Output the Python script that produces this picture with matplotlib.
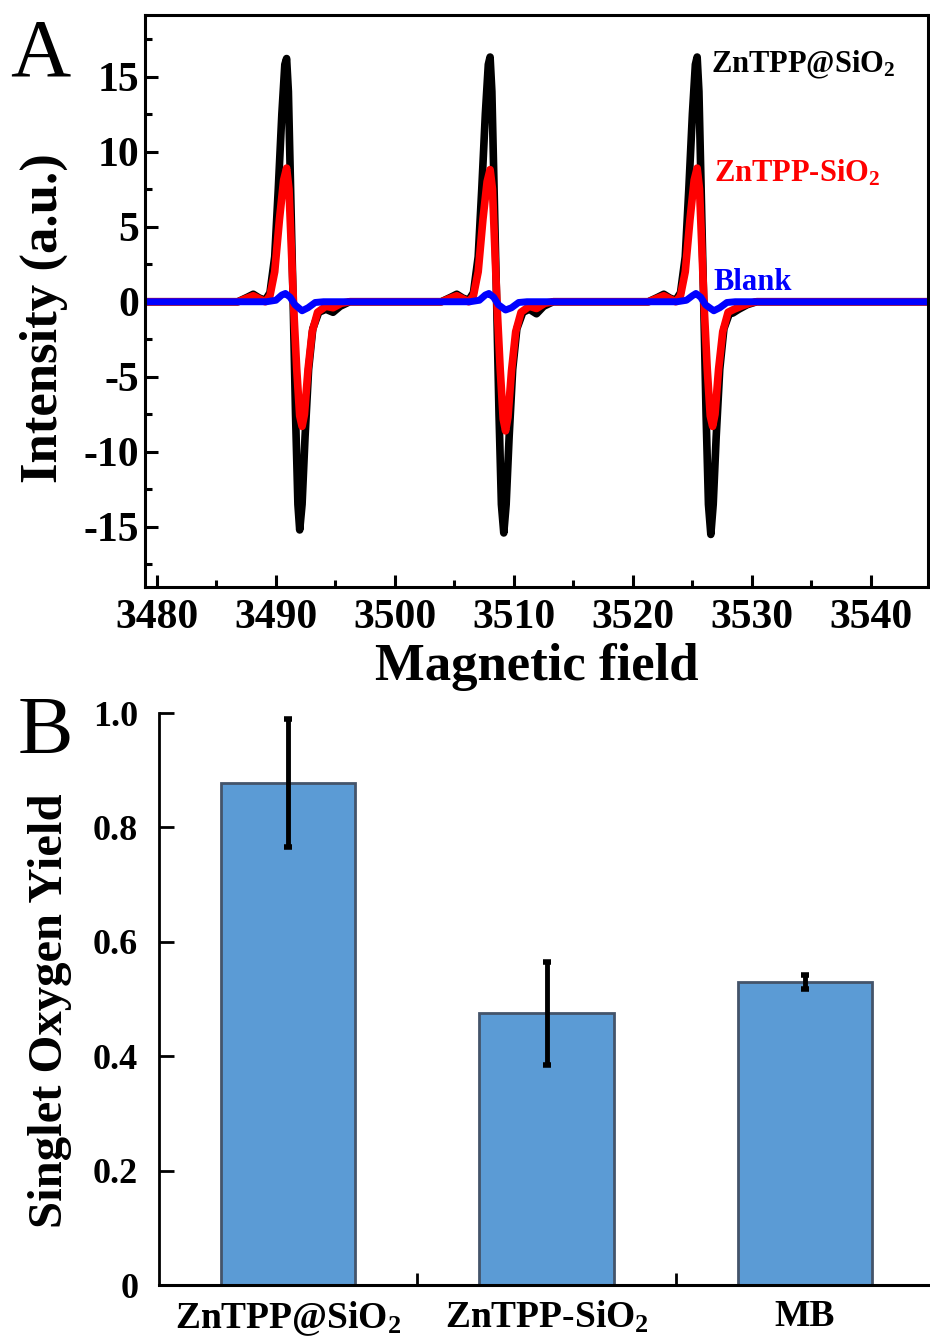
# EPR-Spektren (A) und Singulett-Sauerstoff-Ausbeute (B)

import numpy as np
import matplotlib.pyplot as plt

plt.rcParams['font.family'] = 'Liberation Serif'
plt.rcParams['font.weight'] = 'bold'
plt.rcParams['axes.labelweight'] = 'bold'
plt.rcParams['axes.unicode_minus'] = False
plt.rcParams['mathtext.fontset'] = 'custom'
plt.rcParams['mathtext.rm'] = 'Liberation Serif:bold'
plt.rcParams['mathtext.it'] = 'Liberation Serif:bold'
plt.rcParams['mathtext.bf'] = 'Liberation Serif:bold'

field_black = [3479.0, 3486.8, 3487.6, 3488.1, 3488.6, 3489.1, 3489.5, 3489.9, 3490.2, 3490.5,
               3490.75, 3490.9, 3491.05, 3491.25, 3491.45, 3491.65, 3491.85, 3492.0, 3492.2,
               3492.45, 3492.75, 3493.1, 3493.6, 3494.2, 3494.8, 3495.4, 3496.2,
               3503.9, 3504.7, 3505.2, 3505.7, 3506.2, 3506.6, 3507.0, 3507.3, 3507.6,
               3507.85, 3508.0, 3508.15, 3508.35, 3508.55, 3508.75, 3508.95, 3509.15, 3509.35,
               3509.6, 3509.9, 3510.25, 3510.75, 3511.3, 3511.9, 3512.5, 3513.3,
               3521.3, 3522.1, 3522.6, 3523.1, 3523.6, 3524.0, 3524.4, 3524.7, 3525.0,
               3525.25, 3525.4, 3525.55, 3525.75, 3525.95, 3526.15, 3526.35, 3526.55, 3526.75,
               3527.0, 3527.3, 3527.65, 3528.1, 3528.4, 3528.9, 3529.6, 3530.4, 3545.0]
int_black = [0.0, 0.0, 0.3, 0.5, 0.25, 0.1, 0.6, 3.0, 7.5, 12.5,
             15.8, 16.2, 14.0, 7.0, 0.0, -7.5, -13.5, -15.2, -13.5,
             -9.0, -4.5, -1.8, -0.7, -0.5, -0.7, -0.3, 0.0,
             0.0, 0.3, 0.5, 0.25, 0.1, 0.6, 3.0, 7.5, 12.5,
             15.8, 16.3, 14.0, 7.0, 0.0, -7.5, -13.5, -15.4, -13.5,
             -9.0, -4.5, -1.8, -0.7, -0.5, -0.8, -0.3, 0.0,
             0.0, 0.3, 0.5, 0.25, 0.1, 0.6, 3.0, 7.5, 12.5,
             15.8, 16.3, 14.0, 7.0, 0.0, -7.5, -13.5, -15.5, -13.5,
             -9.0, -4.5, -1.8, -0.8, -0.75, -0.5, -0.2, 0.0, 0.0]

field_red = [3479.0, 3486.8, 3487.6, 3488.1, 3488.6, 3489.1, 3489.5, 3489.9, 3490.3, 3490.65,
             3490.9, 3491.1, 3491.3, 3491.5, 3491.75, 3492.0, 3492.2, 3492.4, 3492.7,
             3493.05, 3493.5, 3494.2, 3494.8, 3495.5, 3496.2,
             3503.9, 3504.7, 3505.2, 3505.7, 3506.2, 3506.6, 3507.0, 3507.4, 3507.75,
             3508.0, 3508.2, 3508.4, 3508.6, 3508.85, 3509.1, 3509.3, 3509.5, 3509.8,
             3510.15, 3510.6, 3511.3, 3511.9, 3512.6, 3513.3,
             3521.3, 3522.1, 3522.6, 3523.1, 3523.6, 3524.0, 3524.4, 3524.8, 3525.15,
             3525.4, 3525.6, 3525.8, 3526.0, 3526.25, 3526.5, 3526.7, 3526.9, 3527.2,
             3527.55, 3528.0, 3528.5, 3529.1, 3529.8, 3530.4, 3545.0]
int_red = [0.0, 0.0, 0.25, 0.4, 0.2, 0.0, 0.4, 2.0, 5.5, 8.1,
           8.9, 7.5, 3.5, -0.5, -4.5, -7.6, -8.3, -7.5, -4.5,
           -2.0, -0.7, -0.3, -0.4, -0.1, 0.0,
           0.0, 0.25, 0.4, 0.2, 0.0, 0.4, 2.0, 5.5, 8.0,
           8.8, 7.5, 3.5, -0.5, -4.5, -7.8, -8.6, -7.7, -4.6,
           -2.0, -0.7, -0.3, -0.45, -0.1, 0.0,
           0.0, 0.25, 0.4, 0.2, 0.0, 0.4, 2.0, 5.5, 8.1,
           8.9, 7.5, 3.5, -0.5, -4.5, -7.6, -8.3, -7.5, -4.5,
           -2.0, -0.7, -0.5, -0.3, -0.1, 0.0, 0.0]

field_blue = [3479.0, 3489.2, 3490.0, 3490.5, 3490.8, 3491.2, 3491.6, 3492.2, 3492.7, 3493.3, 3494.0,
              3506.3, 3507.1, 3507.6, 3507.9, 3508.3, 3508.7, 3509.3, 3509.8, 3510.4, 3511.1,
              3523.7, 3524.5, 3525.0, 3525.3, 3525.7, 3526.1, 3526.8, 3527.3, 3527.9, 3528.6, 3545.0]
int_blue = [0.0, 0.0, 0.1, 0.45, 0.55, 0.3, -0.2, -0.6, -0.4, -0.05, 0.0,
            0.0, 0.1, 0.45, 0.55, 0.3, -0.2, -0.55, -0.4, -0.05, 0.0,
            0.0, 0.1, 0.4, 0.55, 0.3, -0.2, -0.6, -0.4, -0.05, 0.0, 0.0]

# Panel B: Balkendaten
samples = ['ZnTPP@SiO$_2$', 'ZnTPP-SiO$_2$', 'MB']
yields = [0.878, 0.475, 0.530]
yield_err = [0.112, 0.090, 0.012]

fig = plt.figure(figsize=(9.3, 13.43), dpi=100)

# ---------------- Panel A ----------------
ax1 = fig.add_axes([145 / 930, 1 - 587 / 1343, 783 / 930, 572 / 1343])
kw = dict(solid_joinstyle='round', solid_capstyle='round')
ax1.plot(field_black, int_black, color='black', lw=5.5, **kw)
ax1.plot(field_red, int_red, color='#ff0000', lw=5.5, **kw)
ax1.plot(field_blue, int_blue, color='#0000ff', lw=5, **kw)

ax1.set_xlim(3479, 3544.8)
ax1.set_ylim(-19, 19.1)
ax1.set_xticks(np.arange(3480, 3541, 10))
ax1.set_xticks(np.arange(3485, 3541, 10), minor=True)
ax1.set_yticks(np.arange(-15, 16, 5))
ax1.set_yticks(np.arange(-17.5, 18, 5), minor=True)
ax1.tick_params(which='both', direction='in', top=False, right=False, width=2.2)
ax1.tick_params(which='major', length=9, labelsize=30)
ax1.tick_params(which='minor', length=5)
ax1.tick_params(axis='x', pad=9)
ax1.tick_params(axis='y', pad=4)
for s in ax1.spines.values():
    s.set_linewidth(2.2)
ax1.set_xlabel('Magnetic field', fontsize=38, labelpad=4)
ax1.set_ylabel('Intensity (a.u.)', fontsize=38)
ax1.yaxis.set_label_coords(-0.098, 0.47)

ax1.text(3526.6, 15.3, 'ZnTPP@SiO$_2$', color='black', fontsize=22, va='baseline')
ax1.text(3526.8, 8.0, 'ZnTPP-SiO$_2$', color='#ff0000', fontsize=22, va='baseline')
ax1.text(3526.8, 0.8, 'Blank', color='#0000ff', fontsize=22, va='baseline')

fig.text(10 / 930, 1 - 75 / 1343, 'A', fontsize=60, fontweight='normal', va='baseline')

# ---------------- Panel B ----------------
ax2 = fig.add_axes([159 / 930, 1 - 1285 / 1343, 775 / 930, 572 / 1343])
x = np.arange(len(samples))
ax2.bar(x, yields, width=0.52, color='#5b9bd5', edgecolor='#44546a', linewidth=2)
ax2.errorbar(x, yields, yerr=yield_err, fmt='none', ecolor='black', elinewidth=3.5,
             capsize=3, capthick=4)
ax2.set_xlim(-0.5, 2.5)
ax2.set_ylim(0, 1.0)
ax2.set_xticks(x)
ax2.set_xticklabels(samples)
ax2.set_xticks([0.5, 1.5], minor=True)
ax2.set_yticks([0, 0.2, 0.4, 0.6, 0.8, 1.0])
ax2.set_yticklabels(['0', '0.2', '0.4', '0.6', '0.8', '1.0'])
ax2.spines['top'].set_visible(False)
ax2.spines['right'].set_visible(False)
ax2.spines['left'].set_linewidth(2)
ax2.spines['bottom'].set_linewidth(2.2)
ax2.tick_params(axis='x', which='major', length=0, labelsize=27, pad=10)
ax2.tick_params(axis='x', which='minor', direction='in', length=9, width=2)
ax2.tick_params(axis='y', direction='in', length=11, width=2, labelsize=26, pad=15)
ax2.set_ylabel('Singlet Oxygen Yield', fontsize=35)
ax2.yaxis.set_label_coords(-0.112, 0.48)

fig.text(18 / 930, 1 - 753 / 1343, 'B', fontsize=60, fontweight='normal', va='baseline')

fig.savefig('out.png', dpi=100)
